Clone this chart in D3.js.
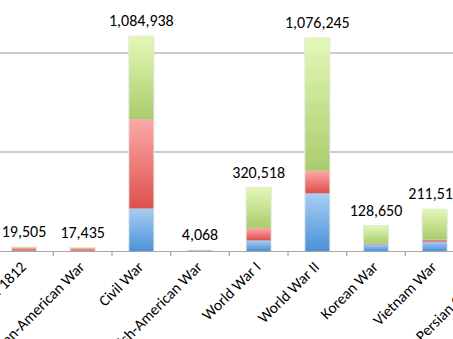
<!DOCTYPE html>
<html><head><meta charset="utf-8">
<script src="https://cdn.jsdelivr.net/npm/d3@7"></script>
<style>body{margin:0;background:#fff;}svg{display:block;font-family:Carlito,Lato,"Liberation Sans",sans-serif;}</style>
</head><body><svg id="c" width="453" height="339"></svg>
<script>
const categories = ["War of 1812","Mexican-American War","Civil War","Spanish-American War","World War I","World War II","Korean War","Vietnam War","Persian Gulf War"];
const battleDeaths = [2260, 1733, 214938, 385, 53402, 291557, 33686, 47424, 148];
const otherDeaths  = [12740, 11550, 451119, 2061, 63114, 113842, 2830, 10785, 235];
const wounded      = [4505, 4152, 418881, 1622, 204002, 670846, 92134, 153303, 467];
const totalLabels  = ["19,505","17,435","1,084,938","4,068","320,518","1,076,245","128,650","211,512","850"];
const gridTicks = [500000, 1000000];

const svg = d3.select("#c");
const W = 453;
const step = 58.67;
const x = d3.scaleBand().domain(categories).range([24 - step/2, 24 - step/2 + step*categories.length]).paddingInner(0.59).paddingOuter(0.295);
const y = d3.scaleLinear().domain([0, 1000000]).range([251, 53]);

const defs = svg.append("defs");
const grads = [
  {id:"gB", top:"#a9cdf3", bot:"#4b92d9"},
  {id:"gR", top:"#fbaaa8", bot:"#df4f4c"},
  {id:"gG", top:"#e3f8b6", bot:"#a9cd6d"}
];
grads.forEach(g => {
  const lg = defs.append("linearGradient").attr("id", g.id).attr("x1",0).attr("y1",0).attr("x2",0).attr("y2",1);
  lg.append("stop").attr("offset","0%").attr("stop-color", g.top);
  lg.append("stop").attr("offset","100%").attr("stop-color", g.bot);
});

// gridlines
svg.append("g").selectAll("line").data(gridTicks).join("line")
  .attr("x1", 0).attr("x2", W).attr("y1", d => y(d)).attr("y2", d => y(d))
  .attr("stroke", "#bdbdbd").attr("stroke-width", 1.5);

const rows = categories.map((c, i) => ({cat: c, battle: battleDeaths[i], other: otherDeaths[i], wounded: wounded[i], label: totalLabels[i]}));
const stack = d3.stack().keys(["battle","other","wounded"])(rows);
const fills = ["url(#gB)","url(#gR)","url(#gG)"];

// shadow
svg.append("g").selectAll("rect").data(rows).join("rect")
  .attr("x", d => x(d.cat) - 1).attr("width", x.bandwidth() + 2)
  .attr("y", d => y(d.battle + d.other + d.wounded) - 0.5)
  .attr("height", d => y(0) - y(d.battle + d.other + d.wounded) + 0.5)
  .attr("fill", "#e4e4e4");

svg.append("g").selectAll("g").data(stack).join("g")
  .attr("fill", (d, i) => fills[i])
  .selectAll("rect").data(d => d).join("rect")
  .attr("x", d => x(d.data.cat)).attr("width", x.bandwidth())
  .attr("y", d => y(d[1])).attr("height", d => Math.max(0, y(d[0]) - y(d[1])));

// axis
const ag = svg.append("g").attr("transform", `translate(0,${y(0)})`);
ag.append("line").attr("x1", 0).attr("x2", W).attr("y1", 0.5).attr("y2", 0.5).attr("stroke", "#a6a6a6").attr("stroke-width", 1.2);
const bounds = categories.map(c => x(c) - (x.step() - x.bandwidth())/2);
ag.selectAll("line.tk").data(bounds).join("line").attr("class","tk")
  .attr("x1", d => d).attr("x2", d => d).attr("y1", 0).attr("y2", 5)
  .attr("stroke", "#a6a6a6").attr("stroke-width", 1.2);

// category labels
svg.append("g").selectAll("text").data(categories).join("text")
  .attr("transform", d => `translate(${x(d) + x.bandwidth()/2 + 3},${268}) rotate(-45)`)
  .attr("text-anchor", "end").attr("font-size", 15.5).attr("fill", "#000")
  .text(d => d);

// total labels
svg.append("g").selectAll("text").data(rows).join("text")
  .attr("x", d => x(d.cat) + x.bandwidth()/2)
  .attr("y", d => y(d.battle + d.other + d.wounded) - 10)
  .attr("text-anchor", "middle").attr("font-size", 16).attr("fill", "#000")
  .text(d => d.label);
</script></body></html>
